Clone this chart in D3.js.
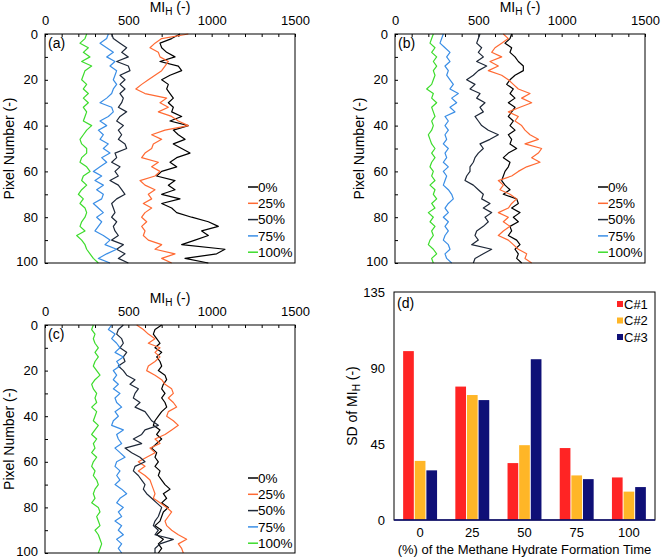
<!DOCTYPE html>
<html>
<head>
<meta charset="utf-8">
<script src="https://cdn.jsdelivr.net/npm/d3@7"></script>
<style>
  body { margin: 0; background: #fff; }
  svg { display: block; font-family: "Liberation Sans", Arial, sans-serif; }
</style>
</head>
<body>
<div id="chart"></div>
<script>
// pixel index along the profile (every 2nd pixel)
const pixelNumbers = d3.range(0, 101, 2);
const seriesNames = ["0%", "25%", "50%", "75%", "100%"];
const seriesColors = ["#000000", "#ff6a33", "#1e2838", "#3a8ee6", "#3ddc2c"];

// panel (a)
const miA0 = [810,760,690,700,730,780,690,800,820,750,700,740,730,750,770,740,770,760,820,750,860,770,800,840,770,820,870,790,750,790,700,670,780,740,780,700,810,700,760,790,880,980,1040,940,980,900,820,1080,1030,840,980];
const miA25 = [860,700,660,630,680,690,740,720,700,660,620,580,545,600,730,690,740,680,760,800,860,720,640,700,650,640,600,580,680,640,690,660,570,600,660,620,640,590,640,600,580,610,580,600,590,620,700,660,780,700,760];
const miA50 = [400,410,450,490,460,500,430,500,510,450,480,450,480,450,470,460,440,490,450,430,470,440,460,440,480,490,420,430,400,450,420,440,390,440,460,480,430,400,410,420,400,430,410,420,440,400,470,430,480,440,500];
const miA75 = [380,370,330,370,410,370,420,390,430,420,410,430,410,400,370,330,400,410,380,330,370,320,350,330,380,350,390,340,370,330,290,340,300,350,310,350,340,290,320,350,310,340,320,300,350,390,360,430,370,320,390];
const miA100 = [250,240,210,260,230,270,220,280,240,230,220,250,230,260,230,260,230,250,240,230,280,250,230,210,220,250,250,220,210,250,270,230,220,250,220,200,230,210,240,250,240,220,210,240,190,220,240,250,270,290,320];

// panel (b)
const miB0 = [700,690,660,700,690,720,740,770,770,720,690,670,710,690,720,680,720,700,680,710,690,720,680,700,690,730,680,650,690,680,660,650,640,660,690,650,730,740,700,750,710,740,690,700,680,730,750,720,740,730,760];
const miB25 = [650,680,640,600,580,640,570,620,560,640,680,710,740,810,760,820,750,680,740,720,760,780,810,860,780,880,860,820,870,790,740,700,620,650,630,690,730,700,680,620,680,650,690,650,620,680,710,740,790,780,820];
const miB50 = [510,500,490,520,500,530,490,550,500,470,430,480,450,510,490,540,510,530,480,500,520,560,620,570,510,530,500,480,470,450,450,430,420,470,500,530,520,570,530,580,540,560,530,490,480,500,460,580,530,480,470];
const miB75 = [290,280,270,300,330,310,330,300,320,310,330,350,330,380,340,370,330,360,300,320,300,320,300,310,290,320,300,310,290,320,290,310,300,290,320,340,350,320,300,320,290,320,300,320,300,290,320,330,300,310,340];
const miB100 = [230,220,210,240,220,250,230,250,230,240,230,220,190,230,220,250,220,230,240,220,230,220,200,210,220,240,220,240,220,210,230,220,240,210,240,230,250,220,240,200,230,210,240,220,230,210,200,230,250,220,230];

// panel (c)
const miC0 = [700,660,650,670,690,660,700,670,690,700,680,720,730,710,700,720,700,720,730,700,680,660,650,690,670,700,670,640,670,660,680,660,690,680,700,720,750,710,730,700,740,710,700,690,660,700,670,710,680,700,680];
const miC25 = [550,590,620,660,620,690,660,690,660,620,610,660,700,720,760,770,740,770,790,740,730,770,800,760,720,660,690,630,660,610,560,600,560,600,630,640,650,660,650,690,730,760,740,720,730,760,800,850,800,820,830];
const miC50 = [470,440,430,460,470,450,490,470,480,440,470,490,540,510,560,540,530,570,540,600,620,640,680,600,580,530,580,480,520,570,600,540,530,560,580,600,590,610,640,670,700,690,680,660,650,680,660,770,690,660,660];
const miC75 = [400,380,420,400,430,450,420,470,430,450,410,430,410,440,410,450,420,430,460,420,440,410,400,470,430,440,460,420,450,480,430,420,450,430,450,420,460,490,450,430,470,440,460,420,460,440,470,430,460,440,460];
const miC100 = [290,280,300,290,300,320,300,320,300,290,310,330,300,280,290,310,300,310,280,310,300,290,320,300,280,310,290,300,280,310,290,280,300,290,310,320,300,290,300,280,320,330,310,320,330,300,320,330,340,330,320];

// panel (d)
const sdCategories = ["0", "25", "50", "75", "100"];
const sdC1 = [100, 79, 33.7, 42.6, 25.2];
const sdC2 = [35, 74, 44.3, 26.4, 16.8];
const sdC3 = [29.4, 71, 95.2, 24.2, 19.5];
const sdSeries = ["C#1", "C#2", "C#3"];
const sdColors = ["#ff2424", "#ffb627", "#0f1077"];

const width = 661;
const height = 559;

const svg = d3.select("#chart")
  .append("svg")
  .attr("width", width)
  .attr("height", height)
  .attr("viewBox", [0, 0, width, height]);

function styleTicks(sel) {
  sel.selectAll("text")
    .attr("font-size", 13)
    .attr("font-family", "Liberation Sans, Arial, sans-serif")
    .attr("fill", "#000");
}

function drawProfile(box, label, values) {
  const x = d3.scaleLinear().domain([0, 1500]).range([box.left, box.left + box.w]);
  const y = d3.scaleLinear().domain([0, 100]).range([box.top, box.top + box.h]);
  const g = svg.append("g");

  // minor inward ticks on top and left
  g.append("g")
    .attr("transform", `translate(0,${box.top})`)
    .call(d3.axisTop(x).tickValues(d3.range(0, 1501, 100)).tickSize(-3).tickFormat(""))
    .call((s) => s.select(".domain").remove());
  g.append("g")
    .attr("transform", `translate(${box.left},0)`)
    .call(d3.axisLeft(y).tickValues(d3.range(0, 101, 10)).tickSize(-3).tickFormat(""))
    .call((s) => s.select(".domain").remove());

  // tick labels
  g.append("g")
    .attr("transform", `translate(0,${box.top})`)
    .call(d3.axisTop(x).tickValues([0, 500, 1000, 1500]).tickFormat(d3.format("d")).tickSize(0).tickPadding(9))
    .call((s) => s.select(".domain").remove())
    .call(styleTicks);
  g.append("g")
    .attr("transform", `translate(${box.left},0)`)
    .call(d3.axisLeft(y).tickValues(d3.range(0, 101, 20)).tickSize(0).tickPadding(7))
    .call((s) => s.select(".domain").remove())
    .call(styleTicks)
    .call((s) => s.selectAll("text").attr("dy", (d) => (d === 100 ? "0.2em" : "0.32em")));

  // profile lines
  const line = d3.line()
    .x((d) => x(d))
    .y((d, i) => y(pixelNumbers[i]));
  values.forEach((v, i) => {
    g.append("path")
      .attr("d", line(v))
      .attr("fill", "none")
      .attr("stroke", seriesColors[i])
      .attr("stroke-width", 1.2)
      .attr("stroke-linejoin", "round");
  });

  // frame
  g.append("rect")
    .attr("x", box.left)
    .attr("y", box.top)
    .attr("width", box.w)
    .attr("height", box.h)
    .attr("fill", "none")
    .attr("stroke", "#000")
    .attr("stroke-width", 1);

  // axis titles
  const title = g.append("text")
    .attr("x", box.left + box.w / 2)
    .attr("y", box.top - 22)
    .attr("text-anchor", "middle")
    .attr("font-size", 14);
  title.append("tspan").text("MI");
  title.append("tspan").attr("font-size", 10).attr("dy", 3).text("H");
  title.append("tspan").attr("dy", -3).text(" (-)");

  g.append("text")
    .attr("transform", `translate(${box.left - 31},${box.top + box.h / 2}) rotate(-90)`)
    .attr("text-anchor", "middle")
    .attr("font-size", 14)
    .text("Pixel Number (-)");

  g.append("text")
    .attr("x", box.left + 3)
    .attr("y", box.top + 14)
    .attr("font-size", 14)
    .text(label);

  // legend
  seriesNames.forEach((name, i) => {
    const ly = box.top + 153 + i * 16.3;
    g.append("line")
      .attr("x1", box.left + 203)
      .attr("x2", box.left + 213)
      .attr("y1", ly)
      .attr("y2", ly)
      .attr("stroke", seriesColors[i])
      .attr("stroke-width", 1.5);
    g.append("text")
      .attr("x", box.left + 213)
      .attr("y", ly)
      .attr("dy", "0.35em")
      .attr("font-size", 13.5)
      .text(name);
  });
}

drawProfile({ left: 45, top: 34, w: 250, h: 229 }, "(a)", [miA0, miA25, miA50, miA75, miA100]);
drawProfile({ left: 395, top: 34, w: 250, h: 229 }, "(b)", [miB0, miB25, miB50, miB75, miB100]);
drawProfile({ left: 45, top: 325, w: 250, h: 228 }, "(c)", [miC0, miC25, miC50, miC75, miC100]);

// panel (d): grouped bars
(function drawBars() {
  const box = { left: 394, top: 292, w: 261, h: 228 };
  const x0 = d3.scaleBand().domain(sdCategories).range([box.left, box.left + box.w]).paddingInner(0.35).paddingOuter(0.175);
  const x1 = d3.scaleBand().domain(sdSeries).range([0, x0.bandwidth()]).paddingInner(0.08);
  const y = d3.scaleLinear().domain([0, 135]).range([box.top + box.h, box.top]);
  const g = svg.append("g");
  const sdValues = [sdC1, sdC2, sdC3];

  g.append("g")
    .selectAll("g")
    .data(sdCategories)
    .join("g")
    .attr("transform", (d) => `translate(${x0(d)},0)`)
    .selectAll("rect")
    .data((d, ci) => sdSeries.map((s, si) => ({ s, si, v: sdValues[si][ci] })))
    .join("rect")
    .attr("x", (d) => x1(d.s))
    .attr("y", (d) => y(d.v))
    .attr("width", x1.bandwidth())
    .attr("height", (d) => y(0) - y(d.v))
    .attr("fill", (d) => sdColors[d.si]);

  // y axis labels
  g.append("g")
    .attr("transform", `translate(${box.left},0)`)
    .call(d3.axisLeft(y).tickValues([0, 45, 90, 135]).tickSize(0).tickPadding(9))
    .call((s) => s.select(".domain").remove())
    .call(styleTicks);

  // x axis labels
  g.append("g")
    .attr("transform", `translate(0,${box.top + box.h})`)
    .call(d3.axisBottom(x0).tickSize(0).tickPadding(8))
    .call((s) => s.select(".domain").remove())
    .call(styleTicks);

  // frame and baseline
  g.append("rect")
    .attr("x", box.left)
    .attr("y", box.top)
    .attr("width", box.w)
    .attr("height", box.h)
    .attr("fill", "none")
    .attr("stroke", "#000")
    .attr("stroke-width", 1);
  g.append("line")
    .attr("x1", box.left)
    .attr("x2", box.left + box.w)
    .attr("y1", y(0))
    .attr("y2", y(0))
    .attr("stroke", "#0f1077")
    .attr("stroke-width", 1.5);

  g.append("text")
    .attr("x", box.left + box.w / 2)
    .attr("y", box.top + box.h + 34)
    .attr("text-anchor", "middle")
    .attr("font-size", 13)
    .text("(%) of the Methane Hydrate Formation Time");

  const yt = g.append("text")
    .attr("transform", `translate(${box.left - 37},${box.top + box.h / 2}) rotate(-90)`)
    .attr("text-anchor", "middle")
    .attr("font-size", 14);
  yt.append("tspan").text("SD of MI");
  yt.append("tspan").attr("font-size", 10).attr("dy", 3).text("H");
  yt.append("tspan").attr("dy", -3).text(" (-)");

  g.append("text")
    .attr("x", box.left + 3)
    .attr("y", box.top + 16)
    .attr("font-size", 14)
    .text("(d)");

  sdSeries.forEach((name, i) => {
    const ly = box.top + 12 + i * 16.5;
    g.append("rect")
      .attr("x", 617)
      .attr("y", ly - 3)
      .attr("width", 6)
      .attr("height", 6)
      .attr("fill", sdColors[i]);
    g.append("text")
      .attr("x", 624)
      .attr("y", ly)
      .attr("dy", "0.35em")
      .attr("font-size", 13)
      .text(name);
  });
})();
</script>
</body>
</html>
